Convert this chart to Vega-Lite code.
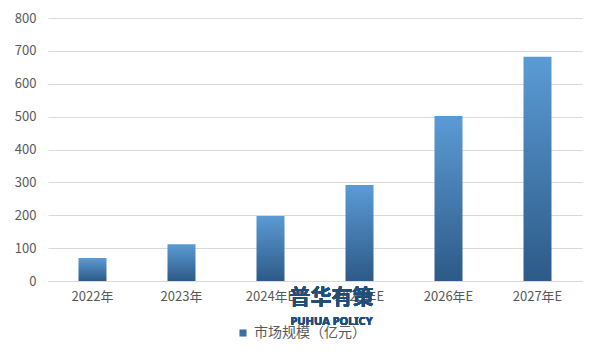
{
  "$schema": "https://vega.github.io/schema/vega-lite/v6.json",
  "width": 534,
  "height": 263,
  "autosize": "none",
  "padding": {"left": 48, "top": 18, "right": 19, "bottom": 80},
  "background": "white",
  "config": {
    "view": {"stroke": null},
    "font": "Noto Sans CJK SC",
    "axis": {"labelFont": "Noto Sans CJK SC", "labelColor": "#595959", "labelFontSize": 13}
  },
  "data": {
    "values": [
      {"year": "2022年", "value": 70, "series": "市场规模（亿元）"},
      {"year": "2023年", "value": 112, "series": "市场规模（亿元）"},
      {"year": "2024年E", "value": 198, "series": "市场规模（亿元）"},
      {"year": "2025年E", "value": 292, "series": "市场规模（亿元）"},
      {"year": "2026年E", "value": 502, "series": "市场规模（亿元）"},
      {"year": "2027年E", "value": 682, "series": "市场规模（亿元）"}
    ]
  },
  "layer": [
    {
      "mark": {
        "type": "bar",
        "size": 28,
        "fill": {
          "gradient": "linear", "x1": 0, "y1": 0, "x2": 0, "y2": 1,
          "stops": [{"offset": 0, "color": "#5b9bd5"}, {"offset": 1, "color": "#2d5a87"}]
        }
      },
      "encoding": {
        "x": {
          "field": "year", "type": "ordinal", "sort": null, "title": null,
          "axis": {"labelAngle": 0, "ticks": false, "domainColor": "#d9d9d9", "labelPadding": 9}
        },
        "y": {
          "field": "value", "type": "quantitative", "title": null,
          "scale": {"domain": [0, 800]},
          "axis": {"values": [0,100,200,300,400,500,600,700,800], "labelOverlap": false, "domain": false, "ticks": false, "gridColor": "#d9d9d9", "labelPadding": 12}
        },
        "color": {
          "field": "series", "type": "nominal",
          "scale": {"range": ["#3a6fa6"]},
          "legend": {
            "title": null, "orient": "none", "legendX": 188, "legendY": 308,
            "symbolType": "square", "symbolSize": 50, "labelFontSize": 14, "labelColor": "#595959", "labelFont": "Noto Sans CJK SC"
          }
        }
      }
    },
    {
      "mark": {"type": "text", "text": "普华有策", "fontSize": 21, "fontWeight": "bold", "color": "#1f4e79", "dx": -28, "font": "Noto Sans CJK SC"},
      "encoding": {
        "x": {"datum": "2025年E", "type": "ordinal", "title": null, "axis": {"labelAngle": 0, "ticks": false, "domainColor": "#d9d9d9", "labelPadding": 9}},
        "y": {"datum": -52, "type": "quantitative", "title": null, "axis": {"values": [0,100,200,300,400,500,600,700,800], "labelOverlap": false, "domain": false, "ticks": false, "gridColor": "#d9d9d9", "labelPadding": 12}}
      }
    },
    {
      "mark": {"type": "text", "text": "PUHUA POLICY", "fontSize": 11, "fontWeight": "bold", "color": "#1f4e79", "dx": -28, "font": "Noto Sans"},
      "encoding": {
        "x": {"datum": "2025年E", "type": "ordinal", "title": null, "axis": {"labelAngle": 0, "ticks": false, "domainColor": "#d9d9d9", "labelPadding": 9}},
        "y": {"datum": -126, "type": "quantitative", "title": null, "axis": {"values": [0,100,200,300,400,500,600,700,800], "labelOverlap": false, "domain": false, "ticks": false, "gridColor": "#d9d9d9", "labelPadding": 12}}
      }
    }
  ]
}
